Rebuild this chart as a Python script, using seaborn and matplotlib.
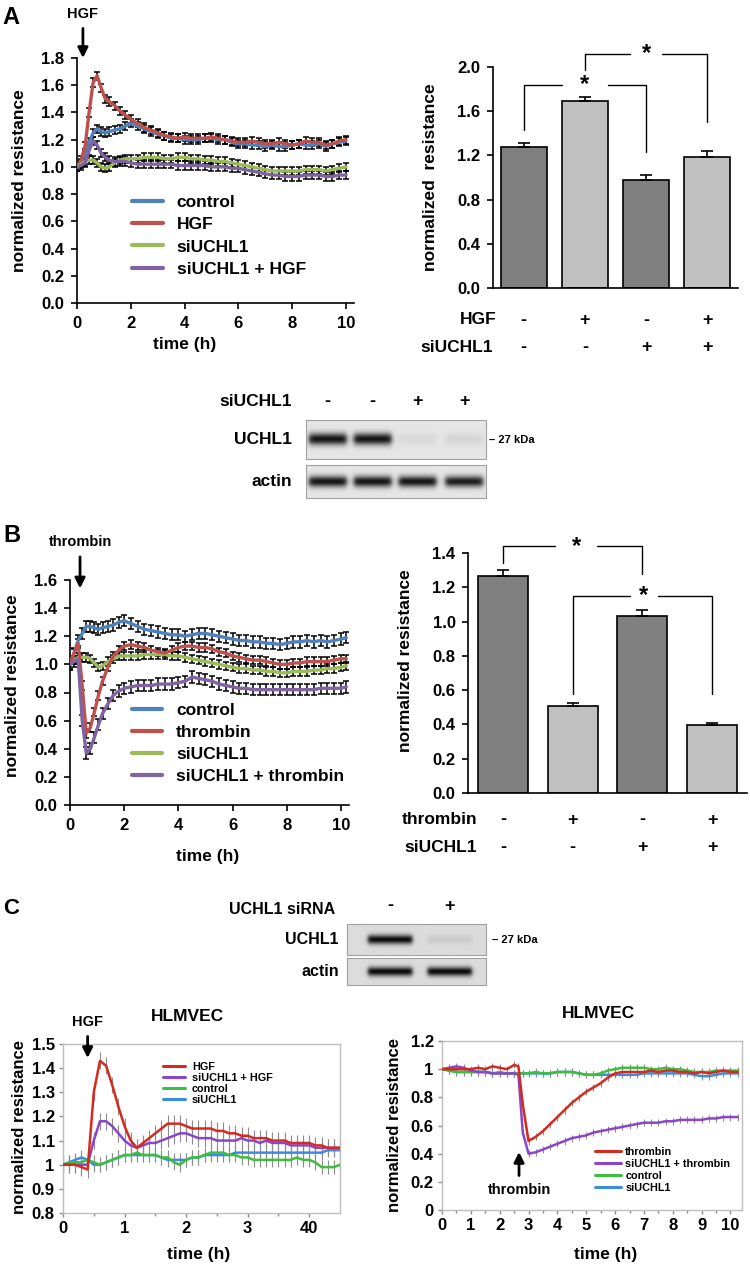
# Multi-panel figure: ECIS resistance traces, bar summaries and blots (UCHL1 knockdown)

import matplotlib
matplotlib.use("Agg")
import matplotlib.pyplot as plt
import matplotlib.transforms as mtransforms
from matplotlib.lines import Line2D
import numpy as np
import pandas as pd
import seaborn as sns

W, H = 750, 1267

# ---------------- panel A: HGF time course ----------------
time_a = [0, 0.15, 0.3, 0.45, 0.6, 0.75, 0.9, 1.05, 1.2, 1.4, 1.6, 1.8, 2.0,
          2.25, 2.5, 2.75, 3.0, 3.25, 3.5, 3.75, 4.0, 4.25, 4.5, 4.75, 5.0,
          5.25, 5.5, 5.75, 6.0, 6.25, 6.5, 6.75, 7.0, 7.25, 7.5, 7.75, 8.0,
          8.25, 8.5, 8.75, 9.0, 9.25, 9.5, 9.75, 10.0]
a_control = [1.00, 1.03, 1.10, 1.18, 1.25, 1.28, 1.26, 1.25, 1.26,
             1.27, 1.28, 1.30, 1.32,
             1.30, 1.28, 1.26, 1.24, 1.23, 1.21, 1.21, 1.20,
             1.20, 1.20, 1.21, 1.21, 1.20, 1.20, 1.18, 1.17,
             1.17, 1.16, 1.16, 1.15, 1.16, 1.15, 1.15, 1.16,
             1.17, 1.16, 1.16, 1.17, 1.15, 1.17, 1.18, 1.19]
a_hgf = [1.00, 1.05, 1.15, 1.40, 1.62, 1.67, 1.58, 1.50, 1.48,
         1.45, 1.41, 1.38, 1.35,
         1.32, 1.29, 1.27, 1.25, 1.23, 1.22, 1.21, 1.22,
         1.21, 1.21, 1.21, 1.22, 1.21, 1.20, 1.19, 1.18,
         1.18, 1.19, 1.18, 1.17, 1.17, 1.18, 1.17, 1.16,
         1.17, 1.19, 1.18, 1.18, 1.16, 1.17, 1.19, 1.20]
a_si = [1.00, 1.02, 1.04, 1.05, 1.05, 1.03, 1.00, 0.99, 1.00,
        1.03, 1.05, 1.06, 1.06,
        1.06, 1.07, 1.07, 1.07, 1.06, 1.06, 1.07, 1.07,
        1.06, 1.06, 1.05, 1.05, 1.04, 1.04, 1.03, 1.02,
        1.01, 1.00, 0.99, 0.98, 0.97, 0.97, 0.97, 0.97,
        0.97, 0.98, 0.98, 0.98, 0.97, 0.98, 0.99, 1.00]
a_si_hgf = [1.00, 1.01, 1.03, 1.12, 1.19, 1.16, 1.10, 1.07, 1.05,
            1.04, 1.04, 1.04, 1.03,
            1.02, 1.02, 1.02, 1.02, 1.02, 1.02, 1.01, 1.01,
            1.01, 1.01, 1.01, 1.00, 1.00, 1.00, 0.99, 0.99,
            0.98, 0.97, 0.96, 0.95, 0.94, 0.94, 0.93, 0.93,
            0.93, 0.94, 0.94, 0.94, 0.93, 0.93, 0.94, 0.94]
a_err = [0.03, 0.03, 0.03, 0.03]
a_labels = ["control", "HGF", "siUCHL1", "siUCHL1 + HGF"]
a_hgf_time = 0.22

a_bar_means = [1.28, 1.69, 0.98, 1.19]
a_bar_err = [0.03, 0.04, 0.04, 0.05]
a_bar_hgf = ["-", "+", "-", "+"]
a_bar_si = ["-", "-", "+", "+"]
# (left bar, right bar, left leg end, top, right leg end, star x, half gap)
a_brackets = [(0, 2, 1.43, 1.84, 1.23, 1.0, 0.38),
              (1, 3, 1.97, 2.12, 1.50, 2.0, 0.26)]

blot_a_si = ["-", "-", "+", "+"]
blot_a_uchl1 = [1.0, 1.0, 0.06, 0.08]
blot_a_actin = [1.0, 1.0, 1.0, 0.95]

# ---------------- panel B: thrombin time course ----------------
time_b = time_a + [10.2]
b_control = [1.00, 1.08, 1.17, 1.22, 1.27, 1.27, 1.26, 1.25, 1.26,
             1.27, 1.28, 1.30, 1.31,
             1.29, 1.27, 1.25, 1.24, 1.23, 1.22, 1.21, 1.21,
             1.20, 1.21, 1.22, 1.22, 1.21, 1.20, 1.19, 1.18,
             1.17, 1.17, 1.16, 1.16, 1.15, 1.15, 1.14, 1.15,
             1.16, 1.16, 1.17, 1.16, 1.17, 1.16, 1.17, 1.18, 1.19]
b_thr = [1.00, 1.08, 1.15, 0.85, 0.51, 0.55, 0.66, 0.78, 0.88,
         0.98, 1.06, 1.10, 1.13,
         1.14, 1.13, 1.12, 1.10, 1.09, 1.08, 1.10, 1.12,
         1.13, 1.13, 1.12, 1.12, 1.11, 1.09, 1.08, 1.06,
         1.05, 1.04, 1.03, 1.03, 1.02, 1.01, 1.00, 1.00,
         1.01, 1.01, 1.02, 1.02, 1.02, 1.02, 1.03, 1.04, 1.04]
b_si = [1.00, 1.03, 1.05, 1.05, 1.05, 1.04, 1.01, 0.98, 0.99,
        1.02, 1.04, 1.06, 1.06,
        1.06, 1.06, 1.07, 1.07, 1.07, 1.07, 1.06, 1.06,
        1.05, 1.04, 1.03, 1.02, 1.01, 1.00, 0.99, 0.98,
        0.97, 0.97, 0.96, 0.96, 0.95, 0.95, 0.94, 0.94,
        0.95, 0.95, 0.95, 0.96, 0.96, 0.97, 0.97, 0.98, 0.99]
b_si_thr = [1.00, 1.02, 1.04, 0.60, 0.37, 0.40, 0.48, 0.57, 0.65,
            0.72, 0.78, 0.81, 0.83,
            0.84, 0.85, 0.85, 0.85, 0.86, 0.86, 0.86, 0.87,
            0.88, 0.91, 0.90, 0.89, 0.88, 0.86, 0.85, 0.84,
            0.83, 0.83, 0.82, 0.82, 0.82, 0.82, 0.82, 0.82,
            0.82, 0.82, 0.82, 0.82, 0.83, 0.83, 0.83, 0.83, 0.84]
b_err = [0.04, 0.03, 0.03, 0.04]
b_labels = ["control", "thrombin", "siUCHL1", "siUCHL1 + thrombin"]
b_thr_time = 0.37

b_bar_means = [1.265, 0.505, 1.035, 0.395]
b_bar_err = [0.035, 0.02, 0.03, 0.015]
b_bar_thr = ["-", "+", "-", "+"]
b_bar_si = ["-", "-", "+", "+"]
b_brackets = [(0, 2, 1.34, 1.44, 1.28, 1.05, 0.30),
              (1, 3, 0.58, 1.15, 0.58, 2.02, 0.20)]

# ---------------- panel C: HLMVEC ----------------
blot_c_si = ["-", "+"]
blot_c_uchl1 = [1.0, 0.08]
blot_c_actin = [1.0, 1.0]

time_c1 = [0, 0.1, 0.2, 0.3, 0.4, 0.5, 0.6, 0.7, 0.8, 0.9, 1.0, 1.1, 1.2, 1.3,
           1.4, 1.5, 1.6, 1.7, 1.8, 1.9, 2.0, 2.1, 2.2, 2.3, 2.4, 2.5, 2.6,
           2.7, 2.8, 2.9, 3.0, 3.1, 3.2, 3.3, 3.4, 3.5, 3.6, 3.7, 3.8, 3.9,
           4.0, 4.1, 4.2, 4.3, 4.4, 4.5]
c1_hgf = [1.00, 1.00, 1.00, 0.99, 0.98, 1.30, 1.43, 1.41, 1.33, 1.24,
          1.16, 1.10, 1.07, 1.09, 1.11, 1.13, 1.15, 1.17, 1.17, 1.17,
          1.16, 1.15, 1.15, 1.15, 1.15, 1.14, 1.14, 1.13, 1.13, 1.12,
          1.12, 1.11, 1.11, 1.11, 1.10, 1.10, 1.10, 1.09, 1.09, 1.09,
          1.09, 1.08, 1.08, 1.07, 1.07, 1.07]
c1_si_hgf = [1.00, 1.00, 1.00, 1.00, 1.00, 1.10, 1.18, 1.18, 1.16, 1.13,
             1.10, 1.08, 1.07, 1.08, 1.09, 1.09, 1.10, 1.11, 1.12, 1.13,
             1.13, 1.12, 1.11, 1.11, 1.11, 1.10, 1.10, 1.10, 1.10, 1.11,
             1.10, 1.10, 1.09, 1.10, 1.09, 1.09, 1.09, 1.08, 1.08, 1.08,
             1.08, 1.07, 1.07, 1.07, 1.07, 1.07]
c1_control = [1.00, 1.01, 1.01, 1.01, 1.02, 1.01, 1.00, 1.01, 1.02, 1.03,
              1.04, 1.04, 1.05, 1.04, 1.04, 1.04, 1.03, 1.03, 1.01, 1.00,
              1.02, 1.03, 1.03, 1.04, 1.05, 1.05, 1.05, 1.04, 1.04, 1.03,
              1.03, 1.02, 1.02, 1.02, 1.02, 1.02, 1.02, 1.02, 1.03, 1.02,
              1.02, 1.01, 0.99, 0.99, 0.99, 1.00]
c1_si = [1.00, 1.01, 1.02, 1.03, 1.02, 1.00, 1.00, 1.01, 1.02, 1.03,
         1.04, 1.04, 1.04, 1.04, 1.04, 1.04, 1.03, 1.02, 1.02, 1.02,
         1.02, 1.03, 1.03, 1.04, 1.04, 1.04, 1.04, 1.04, 1.05, 1.05,
         1.05, 1.05, 1.05, 1.05, 1.05, 1.05, 1.05, 1.05, 1.05, 1.05,
         1.05, 1.05, 1.05, 1.06, 1.06, 1.06]
c1_err = [0.035, 0.035, 0.03, 0.03]
c1_labels = ["HGF", "siUCHL1 + HGF", "control", "siUCHL1"]
c1_xticklabels = ["0", "1", "2", "3", "40"]
c1_hgf_time = 0.4

time_c2 = [0, 0.25, 0.5, 0.75, 1.0, 1.25, 1.5, 1.75, 2.0, 2.25, 2.5, 2.65, 2.8,
           3.0, 3.25, 3.5, 3.75, 4.0, 4.25, 4.5, 4.75, 5.0, 5.25, 5.5, 5.75,
           6.0, 6.25, 6.5, 6.75, 7.0, 7.25, 7.5, 7.75, 8.0, 8.25, 8.5, 8.75,
           9.0, 9.25, 9.5, 9.75, 10.0, 10.25]
c2_thr = [1.00, 1.00, 1.00, 1.00, 1.00, 1.01, 1.00, 1.02, 1.01, 1.00, 1.03,
          1.02, 0.75,
          0.49, 0.52, 0.56, 0.61, 0.66, 0.71, 0.76, 0.80, 0.84, 0.87,
          0.90, 0.94, 0.97, 0.98, 0.98, 0.98, 0.98, 0.99, 0.98, 0.99,
          0.99, 0.98, 0.98, 0.97, 0.98, 0.97, 0.98, 0.99, 0.98, 0.98]
c2_si_thr = [1.00, 1.01, 1.02, 1.01, 0.99, 0.98, 0.98, 0.97, 0.97, 0.97, 0.97,
             0.96, 0.55,
             0.40, 0.41, 0.43, 0.45, 0.47, 0.49, 0.51, 0.52, 0.53, 0.55,
             0.56, 0.57, 0.58, 0.59, 0.60, 0.61, 0.62, 0.62, 0.62, 0.63,
             0.63, 0.64, 0.64, 0.64, 0.64, 0.65, 0.65, 0.66, 0.66, 0.66]
c2_control = [1.00, 0.99, 0.98, 0.98, 0.98, 0.98, 0.98, 0.97, 0.98, 0.97, 0.97,
              0.97, 0.97,
              0.97, 0.98, 0.97, 0.97, 0.98, 0.98, 0.98, 0.97, 0.96, 0.96,
              0.97, 0.99, 1.00, 1.01, 1.01, 1.01, 1.01, 1.00, 1.00, 1.01,
              1.00, 1.00, 0.99, 0.98, 0.98, 0.98, 0.99, 0.99, 0.99, 0.99]
c2_si = [1.00, 0.99, 0.98, 0.98, 0.98, 0.98, 0.98, 0.97, 0.97, 0.97, 0.97,
         0.97, 0.97,
         0.97, 0.97, 0.97, 0.97, 0.98, 0.98, 0.98, 0.97, 0.96, 0.96,
         0.96, 0.96, 0.96, 0.96, 0.96, 0.96, 0.97, 0.97, 0.97, 0.97,
         0.97, 0.97, 0.97, 0.96, 0.95, 0.95, 0.96, 0.97, 0.97, 0.97]
c2_err = [0.025, 0.025, 0.025, 0.025]
c2_labels = ["thrombin", "siUCHL1 + thrombin", "control", "siUCHL1"]
c2_thr_time = 2.67

excel_colors = ["#4F81BD", "#C0504D", "#9BBB59", "#8064A2"]
hlmvec_colors = ["#D42A20", "#8A45C9", "#3EBE3E", "#3B8BE0"]
bar_colors = ["#808080", "#C0C0C0", "#808080", "#C0C0C0"]


def px_axes(fig, left, top, right, bottom):
    # axes placed by pixel box of the reference image
    return fig.add_axes([left / W, 1 - bottom / H, (right - left) / W, (bottom - top) / H])


def ftext(fig, x, y, s, **kw):
    kw.setdefault("va", "center")
    fig.text(x / W, 1 - y / H, s, **kw)


def line_panel(ax, t, series, labels, colors, errs, draw_order, ecolor, lw, elw, cap):
    frames = []
    for i in draw_order:
        ax.errorbar(t, series[i], yerr=errs[i], fmt="none", ecolor=ecolor,
                    elinewidth=elw, capsize=cap, capthick=elw, zorder=1)
        frames.append(pd.DataFrame({"time": t, "value": series[i], "group": labels[i]}))
    df = pd.concat(frames)
    sns.lineplot(data=df, x="time", y="value", hue="group",
                 hue_order=[labels[i] for i in draw_order],
                 palette=dict(zip(labels, colors)), estimator=None, sort=False,
                 lw=lw, legend=False, ax=ax, zorder=3)


def add_legend(ax, labels, colors, lw, fontsize, anchor, hlen, hpad, spacing):
    handles = [Line2D([], [], color=c, lw=lw) for c in colors]
    ax.legend(handles, labels, loc="upper left", bbox_to_anchor=anchor,
              frameon=False, fontsize=fontsize, handlelength=hlen,
              handletextpad=hpad, labelspacing=spacing, borderpad=0,
              borderaxespad=0)


def bar_panel(ax, means, errs, width):
    conds = ["c1", "c2", "c3", "c4"]
    df = pd.DataFrame({"cond": conds, "mean": means})
    sns.barplot(data=df, x="cond", y="mean", hue="cond",
                palette=dict(zip(conds, bar_colors)), legend=False,
                edgecolor="black", linewidth=1.2, width=width, errorbar=None, ax=ax)
    ax.errorbar(range(4), means, yerr=[np.zeros(4), errs], fmt="none",
                ecolor="black", elinewidth=1.2, capsize=4, capthick=1.2)
    ax.set_xlim(-0.5, 3.5)
    ax.set_xlabel("")
    ax.tick_params(axis="x", length=0, labelbottom=False)
    ax.tick_params(axis="y", direction="out", length=4, width=1.2, pad=5, labelsize=12)
    sns.despine(ax=ax)


def brackets(ax, specs):
    for x1, x2, y1, ytop, y2, xs, gap in specs:
        ax.plot([x1, x1, xs - gap], [y1, ytop, ytop], color="black", lw=1, clip_on=False)
        ax.plot([xs + gap, x2, x2], [ytop, ytop, y2], color="black", lw=1, clip_on=False)
        ax.text(xs, ytop, "*", ha="center", va="center", fontsize=17)


def sign_row(ax, signs, yfrac, size=13):
    tr = mtransforms.blended_transform_factory(ax.transData, ax.transAxes)
    for i, s in enumerate(signs):
        ax.text(i, yfrac, s, transform=tr, ha="center", va="center",
                fontsize=size, clip_on=False)


def draw_blot(ax, intensities, centers, band_w, band_h, bg):
    xs = np.linspace(0, 1, 300)
    ys = np.linspace(0, 1, 60)
    X, Y = np.meshgrid(xs, ys)
    img = np.full(X.shape, bg)
    for c, k in zip(centers, intensities):
        px = 1 / (1 + np.exp(-(X - (c - band_w / 2)) / 0.008))
        px *= 1 / (1 + np.exp((X - (c + band_w / 2)) / 0.008))
        py = np.exp(-((Y - 0.5) / band_h) ** 2)
        img = img - k * 0.82 * px * py
    ax.imshow(img, cmap="gray", vmin=0, vmax=1, aspect="auto", interpolation="bilinear")
    ax.set_xticks([])
    ax.set_yticks([])
    for s in ax.spines.values():
        s.set_color("#a0a0a0")
        s.set_linewidth(0.8)


def time_axis(ax, xlim, ylim, yticks, xlabel_pos, ylabel_pos):
    ax.set_xlim(*xlim)
    ax.set_ylim(*ylim)
    ax.set_yticks(yticks)
    ax.set_xticks([0, 2, 4, 6, 8, 10])
    ax.yaxis.set_major_formatter(matplotlib.ticker.FormatStrFormatter("%.1f"))
    ax.tick_params(direction="out", length=4, width=1.2, pad=5, labelsize=12)
    ax.set_xlabel("time (h)", fontsize=12.5)
    ax.set_ylabel("normalized resistance", fontsize=12.5)
    ax.xaxis.set_label_coords(*xlabel_pos)
    ax.yaxis.set_label_coords(*ylabel_pos)
    sns.despine(ax=ax)


def hlmvec_axis(ax, xlim, ylim, yticks, yticklabels, xticks, xticklabels, xlabel_pos, ylabel_pos, title_x):
    ax.set_xlim(*xlim)
    ax.set_ylim(*ylim)
    ax.set_yticks(yticks)
    ax.set_yticklabels(yticklabels)
    ax.set_xticks(xticks)
    ax.set_xticklabels(xticklabels)
    ax.set_xticks(np.array(xticks[:-1]) + 0.5, minor=True)
    for s in ax.spines.values():
        s.set_color("#bdbdbd")
        s.set_linewidth(1)
    ax.tick_params(axis="both", which="major", direction="out", length=3, width=1,
                   color="#8a8a8a", pad=3, labelsize=12)
    ax.tick_params(axis="x", which="minor", direction="out", length=2, width=1, color="#8a8a8a")
    ax.set_xlabel("time (h)", fontsize=12.5)
    ax.set_ylabel("normalized resistance", fontsize=12)
    ax.xaxis.set_label_coords(*xlabel_pos)
    ax.yaxis.set_label_coords(*ylabel_pos)
    ax.text(title_x, 1.16, "HLMVEC", transform=ax.transAxes, ha="center",
            va="center", fontsize=12.5)


def arrow(ax, label, x, y, offset, size=10.5):
    ax.annotate(label, xy=(x, y), xytext=(0, offset), textcoords="offset pixels",
                ha="center", va="center", fontsize=size, annotation_clip=False,
                arrowprops=dict(arrowstyle="-|>", color="black", lw=2,
                                shrinkA=3, shrinkB=0, mutation_scale=15))


sns.set_theme(style="ticks", rc={"axes.edgecolor": "black", "xtick.color": "black",
                                 "ytick.color": "black", "text.color": "black",
                                 "axes.labelcolor": "black", "axes.linewidth": 1.2})
plt.rcParams["font.family"] = ["Liberation Sans", "DejaVu Sans"]
plt.rcParams["font.weight"] = "bold"
plt.rcParams["axes.labelweight"] = "bold"

fig = plt.figure(figsize=(W / 100, H / 100), dpi=100)

# ---- A: time course ----
ax = px_axes(fig, 77, 58, 354, 303)
line_panel(ax, time_a, [a_control, a_hgf, a_si, a_si_hgf], a_labels, excel_colors,
           a_err, [0, 1, 2, 3], "black", 2.4, 1.1, 2.4)
time_axis(ax, (0, 10.3), (0, 1.8), np.arange(0, 1.81, 0.2), (0.39, -0.139), (-0.18, 0.5))
add_legend(ax, a_labels, excel_colors, 3, 12.5, (0.2, 0.44), 1.75, 0.8, 0.4)
arrow(ax, "HGF", a_hgf_time, 1.8, 44)
ftext(fig, 11, 18, "A", fontsize=17, ha="center")

# ---- A: bars ----
ax = px_axes(fig, 493, 67, 738, 288)
bar_panel(ax, a_bar_means, a_bar_err, 0.75)
ax.set_ylim(0, 2.0)
ax.set_yticks(np.arange(0, 2.01, 0.4))
ax.yaxis.set_major_formatter(matplotlib.ticker.FormatStrFormatter("%.1f"))
ax.set_ylabel("normalized  resistance", fontsize=12.5)
ax.yaxis.set_label_coords(-0.224, 0.5)
brackets(ax, a_brackets)
sign_row(ax, a_bar_hgf, -0.145)
sign_row(ax, a_bar_si, -0.27)
ftext(fig, 497, 320, "HGF", fontsize=12.5, ha="right")
ftext(fig, 493, 348, "siUCHL1", fontsize=12.5, ha="right")

# ---- A: western blot ----
lanes_a = [0.12, 0.37, 0.62, 0.88]
ax = px_axes(fig, 306, 420, 486, 459)
draw_blot(ax, blot_a_uchl1, lanes_a, 0.21, 0.15, 0.90)
ax = px_axes(fig, 306, 465, 486, 498)
draw_blot(ax, blot_a_actin, lanes_a, 0.21, 0.17, 0.90)
for xc, s in zip(lanes_a, blot_a_si):
    ftext(fig, 306 + 180 * xc, 402, s, fontsize=13, ha="center")
ftext(fig, 292, 402, "siUCHL1", fontsize=12.5, ha="right")
ftext(fig, 292, 440, "UCHL1", fontsize=12.5, ha="right")
ftext(fig, 292, 481, "actin", fontsize=12.5, ha="right")
ftext(fig, 489, 440, "– 27 kDa", fontsize=8, ha="left")

# ---- B: time course ----
ax = px_axes(fig, 70, 580, 349, 805)
line_panel(ax, time_b, [b_control, b_thr, b_si, b_si_thr], b_labels, excel_colors,
           b_err, [0, 2, 1, 3], "black", 2.4, 1.1, 2.4)
time_axis(ax, (0, 10.3), (0, 1.6), np.arange(0, 1.61, 0.2), (0.495, -0.196), (-0.18, 0.53))
add_legend(ax, b_labels, excel_colors, 3, 12.5, (0.222, 0.455), 1.75, 0.8, 0.4)
arrow(ax, "thrombin", b_thr_time, 1.54, 46)
ftext(fig, 12, 535, "B", fontsize=17, ha="center")

# ---- B: bars ----
ax = px_axes(fig, 468, 553, 747, 793)
bar_panel(ax, b_bar_means, b_bar_err, 0.72)
ax.set_ylim(0, 1.4)
ax.set_yticks(np.arange(0, 1.41, 0.2))
ax.yaxis.set_major_formatter(matplotlib.ticker.FormatStrFormatter("%.1f"))
ax.set_ylabel("normalized resistance", fontsize=12.5)
ax.yaxis.set_label_coords(-0.197, 0.55)
brackets(ax, b_brackets)
sign_row(ax, b_bar_thr, -0.1125)
sign_row(ax, b_bar_si, -0.229)
ftext(fig, 477, 820, "thrombin", fontsize=12.5, ha="right")
ftext(fig, 477, 848, "siUCHL1", fontsize=12.5, ha="right")

# ---- C: western blot ----
lanes_c = [0.31, 0.74]
ax = px_axes(fig, 347, 924, 486, 955)
draw_blot(ax, blot_c_uchl1, lanes_c, 0.32, 0.15, 0.86)
ax = px_axes(fig, 347, 958, 486, 985)
draw_blot(ax, blot_c_actin, lanes_c, 0.32, 0.17, 0.86)
for xc, s in zip(lanes_c, blot_c_si):
    ftext(fig, 347 + 139 * xc, 906, s, fontsize=13, ha="center")
ftext(fig, 335, 910, "UCHL1 siRNA", fontsize=11.5, ha="right")
ftext(fig, 339, 940, "UCHL1", fontsize=11.5, ha="right")
ftext(fig, 339, 971, "actin", fontsize=11.5, ha="right")
ftext(fig, 492, 940, "– 27 kDa", fontsize=8, ha="left")
ftext(fig, 11, 908, "C", fontsize=16, ha="center")

# ---- C: HLMVEC + HGF ----
ax = px_axes(fig, 63, 1044, 340, 1213)
line_panel(ax, time_c1, [c1_hgf, c1_si_hgf, c1_control, c1_si], c1_labels,
           hlmvec_colors, c1_err, [3, 2, 1, 0], "#8c8c8c", 1.8, 0.8, 0)
hlmvec_axis(ax, (0, 4.5), (0.8, 1.5), np.arange(0.8, 1.51, 0.1),
            ["0.8", "0.9", "1", "1.1", "1.2", "1.3", "1.4", "1.5"],
            [0, 1, 2, 3, 4], c1_xticklabels, (0.49, -0.2), (-0.13, 0.51), 0.45)
add_legend(ax, c1_labels, hlmvec_colors, 2.2, 7.8, (0.36, 0.895), 2.1, 0.6, 0.1)
arrow(ax, "HGF", c1_hgf_time, 1.442, 36)

# ---- C: HLMVEC + thrombin ----
ax = px_axes(fig, 442, 1041, 742, 1210)
line_panel(ax, time_c2, [c2_thr, c2_si_thr, c2_control, c2_si], c2_labels,
           hlmvec_colors, c2_err, [3, 2, 1, 0], "#8c8c8c", 1.8, 0.8, 0)
hlmvec_axis(ax, (0, 10.4), (0, 1.2), np.arange(0, 1.21, 0.2),
            ["0", "0.2", "0.4", "0.6", "0.8", "1", "1.2"],
            list(range(11)), [str(i) for i in range(11)], (0.547, -0.219), (-0.133, 0.5), 0.52)
add_legend(ax, c2_labels, hlmvec_colors, 2.2, 7.8, (0.51, 0.375), 2.4, 0.4, 0.2)
arrow(ax, "thrombin", c2_thr_time, 0.412, -38)

fig.savefig("out.png", dpi=100)
